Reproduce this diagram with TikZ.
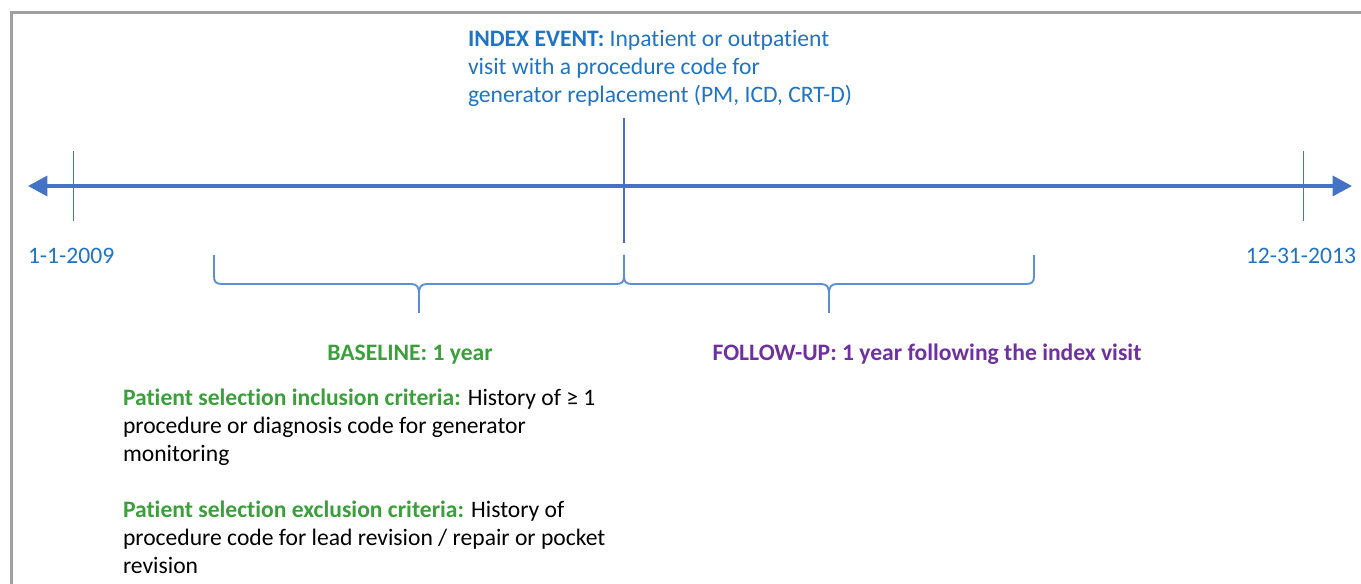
\documentclass[tikz,border=0pt]{standalone}
\usepackage{fontspec}
\setmainfont{Carlito}[Ligatures=NoCommon]
\usetikzlibrary{arrows.meta}
\definecolor{axisblue}{HTML}{4472C4}
\definecolor{braceblue}{HTML}{5B8FD6}
\definecolor{textblue}{HTML}{1F74C6}
\definecolor{labgreen}{HTML}{3AA03A}
\definecolor{labpurple}{HTML}{7030A0}
\definecolor{framegray}{HTML}{A0A0A0}
\tikzset{
  lbl/.style={inner sep=0pt, outer sep=0pt, font=\fontsize{17.7pt}{21pt}\selectfont, align=left},
  brace/.style={draw=braceblue, line width=1.4pt, line join=round},
  axis/.style={draw=axisblue, line width=2.5pt},
  tick/.style={draw=axisblue, line width=1.1pt},
}
\begin{document}
\begin{tikzpicture}[x=0.75pt,y=-0.75pt]
\useasboundingbox (0,0) rectangle (1361,584);
% frame (top and left edges)
\draw[framegray, line width=2.4pt] (11.5,584) -- (11.5,12.5) -- (1361,12.5);

% time axis
\coordinate (axL) at (28,186);
\coordinate (axR) at (1352,186);
\draw[axis, {Triangle[length=14.5pt,width=15pt]}-{Triangle[length=14.5pt,width=15pt]}] (axL) -- (axR);

% start / end ticks
\coordinate (t1a) at (73.5,151);
\coordinate (t1b) at (73.5,221);
\coordinate (t2a) at (1303.5,151);
\coordinate (t2b) at (1303.5,221);
\draw[tick] (t1a) -- (t1b);
\draw[tick] (t2a) -- (t2b);

% index event marker
\coordinate (ixa) at (624,118);
\coordinate (ixb) at (624,243);
\draw[axis, line width=2pt] (ixa) -- (ixb);

% dates
\node[lbl, text=textblue, anchor=base west] (d1) at (28,264) {1-1-2009};
\node[lbl, text=textblue, anchor=base east] (d2) at (1356,264) {12-31-2013};

% index event description
\node[lbl, text=textblue, anchor=north west] (ix) at (468,30)
  {\textbf{INDEX EVENT:} Inpatient or outpatient\\
   visit with a procedure code for\\
   generator replacement (PM, ICD, CRT-D)};

% baseline brace
\draw[brace] (214,255) -- (214,276) .. controls (214,282) and (216,284) .. (222,284)
  -- (411,284) .. controls (417,284) and (419,287) .. (419,294) -- (419,313);
\draw[brace] (624,255) -- (624,276) .. controls (624,282) and (622,284) .. (616,284)
  -- (427,284) .. controls (421,284) and (419,287) .. (419,294);

% follow-up brace
\draw[brace] (1034,255) -- (1034,276) .. controls (1034,282) and (1032,284) .. (1026,284)
  -- (837,284) .. controls (831,284) and (829,287) .. (829,294) -- (829,313);
\draw[brace] (624,255) -- (624,276) .. controls (624,282) and (626,284) .. (632,284)
  -- (821,284) .. controls (827,284) and (829,287) .. (829,294);

% period labels
\node[lbl, text=labgreen, anchor=base] (bl) at (410,361) {\textbf{BASELINE: 1 year}};
\node[lbl, text=labpurple, anchor=base] (fu) at (927,361) {\textbf{FOLLOW-UP: 1 year following the index visit}};

% selection criteria
\node[lbl, anchor=north west] (inc) at (123,389)
  {\textcolor{labgreen}{\textbf{Patient selection inclusion criteria:}} History of ≥ 1\\
   procedure or diagnosis code for generator\\
   monitoring};
\node[lbl, anchor=north west] (exc) at (123,501)
  {\textcolor{labgreen}{\textbf{Patient selection exclusion criteria:}} History of\\
   procedure code for lead revision / repair or pocket\\
   revision};
\end{tikzpicture}
\end{document}
